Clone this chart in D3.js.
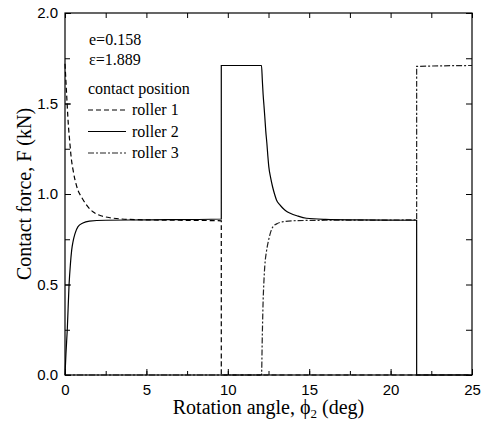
<!DOCTYPE html>
<html>
<head>
<meta charset="utf-8">
<script src="https://cdn.jsdelivr.net/npm/d3@7"></script>
<style>
  body { margin: 0; background: #fff; }
  svg { display: block; }
  .serif { font-family: "Liberation Serif", "Times New Roman", serif; }
</style>
</head>
<body>
<svg width="487" height="428"></svg>
<script>
// values
const roller1X = [0, 0.1, 0.2, 0.3, 0.37, 0.5, 0.61, 0.8, 1.0, 1.12, 1.4, 1.74, 2.2, 2.7, 3.5, 5, 7, 9.6, 9.6, 25];
const roller1Y = [1.72, 1.55, 1.39, 1.28, 1.21, 1.13, 1.08, 1.02, 0.985, 0.967, 0.93, 0.90, 0.88, 0.87, 0.862, 0.857, 0.855, 0.852, 0, 0];

const roller2X = [0, 0.06, 0.14, 0.25, 0.33, 0.41, 0.5, 0.61, 0.8, 1.1, 1.5, 2.5, 5, 9.6, 9.6, 12.07, 12.12, 12.17, 12.22, 12.27, 12.33, 12.4, 12.46, 12.52, 12.63, 12.75, 12.87, 12.99, 13.2, 13.4, 13.6, 13.8, 14.3, 14.83, 16, 18, 21.6, 21.6, 25];
const roller2Y = [0, 0.12, 0.25, 0.50, 0.61, 0.69, 0.74, 0.78, 0.82, 0.84, 0.85, 0.855, 0.857, 0.862, 1.71, 1.71, 1.63, 1.55, 1.49, 1.43, 1.35, 1.28, 1.21, 1.15, 1.09, 1.04, 1.0, 0.967, 0.94, 0.92, 0.905, 0.895, 0.878, 0.866, 0.86, 0.857, 0.855, 0, 0];

const roller3X = [0, 12.07, 12.12, 12.17, 12.22, 12.27, 12.37, 12.47, 12.6, 12.78, 13.0, 13.4, 14, 16, 21.6, 21.6, 25];
const roller3Y = [0, 0, 0.22, 0.41, 0.52, 0.60, 0.68, 0.73, 0.78, 0.82, 0.835, 0.847, 0.852, 0.855, 0.857, 1.705, 1.71];

const xTicks = [0, 5, 10, 15, 20, 25];
const yTicks = [0.0, 0.5, 1.0, 1.5, 2.0];
const legendNames = ["roller 1", "roller 2", "roller 3"];
const noteLines = ["e=0.158", "\u03b5=1.889"];

const W = 487, H = 428;
const margin = {left: 65, right: 15, top: 13, bottom: 53};
const iw = W - margin.left - margin.right;
const ih = H - margin.top - margin.bottom;

const svg = d3.select("svg");
const g = svg.append("g").attr("transform", `translate(${margin.left},${margin.top})`);

const x = d3.scaleLinear().domain([0, 25]).range([0, iw]);
const y = d3.scaleLinear().domain([0, 2]).range([ih, 0]);

const sans = "'Liberation Sans', Arial, sans-serif";

// inward ticks on all four sides
function styleAxis(sel) {
    sel.select(".domain").remove();
    sel.selectAll("line").attr("stroke", "#000").attr("stroke-width", 1);
}
const xMinor = d3.range(0, 25.01, 2.5);
const yMinor = d3.range(0, 2.01, 0.25);

g.append("g").attr("transform", `translate(0,${ih})`)
    .call(d3.axisBottom(x).tickValues(xMinor).tickSize(-4).tickFormat(""))
    .call(styleAxis);
g.append("g").attr("transform", `translate(0,${ih})`)
    .call(d3.axisBottom(x).tickValues(xTicks).tickSize(-6).tickPadding(9).tickFormat(d3.format("d")))
    .call(styleAxis)
    .selectAll("text").attr("font-family", sans).attr("font-size", 15).attr("fill", "#000");
g.append("g")
    .call(d3.axisTop(x).tickValues(xMinor).tickSize(-5).tickFormat(""))
    .call(styleAxis);

g.append("g")
    .call(d3.axisLeft(y).tickValues(yMinor).tickSize(-5).tickFormat(""))
    .call(styleAxis);
g.append("g")
    .call(d3.axisLeft(y).tickValues(yTicks).tickSize(-6).tickPadding(7).tickFormat(d3.format(".1f")))
    .call(styleAxis)
    .selectAll("text").attr("font-family", sans).attr("font-size", 15).attr("fill", "#000");
g.append("g").attr("transform", `translate(${iw},0)`)
    .call(d3.axisRight(y).tickValues(yMinor).tickSize(-6).tickFormat(""))
    .call(styleAxis);

// series
const line = d3.line().x(d => x(d[0])).y(d => y(d[1])).curve(d3.curveMonotoneX);
const series = [
    {pts: d3.zip(roller3X, roller3Y), dash: "6,2,2,2", color: "#222"},
    {pts: d3.zip(roller1X, roller1Y), dash: "5,3", color: "#000"},
    {pts: d3.zip(roller2X, roller2Y), dash: null, color: "#000"}
];
g.selectAll("path.s").data(series).enter().append("path")
    .attr("class", "s")
    .attr("d", d => line(d.pts))
    .attr("fill", "none")
    .attr("stroke", d => d.color)
    .attr("stroke-width", 1.2)
    .attr("stroke-dasharray", d => d.dash);

// frame
g.append("rect").attr("width", iw).attr("height", ih)
    .attr("fill", "none").attr("stroke", "#000").attr("stroke-width", 1.2);

// notes + legend
g.selectAll("text.note").data(noteLines).enter().append("text")
    .attr("class", "serif")
    .attr("x", 24).attr("y", (d, i) => 32 + i * 20)
    .attr("font-size", 16).text(d => d);

g.append("text").attr("class", "serif").attr("x", 23).attr("y", 81)
    .attr("font-size", 16).text("contact position");

const legDash = ["5,3", null, "6,2,2,2"];
const leg = g.selectAll("g.leg").data(legendNames).enter().append("g")
    .attr("transform", (d, i) => `translate(23,${97 + i * 21.5})`);
leg.append("line").attr("x1", 0).attr("x2", 38)
    .attr("stroke", (d, i) => i === 2 ? "#222" : "#000").attr("stroke-width", 1.2)
    .attr("stroke-dasharray", (d, i) => legDash[i]);
leg.append("text").attr("class", "serif").attr("x", 44).attr("y", 5)
    .attr("font-size", 16).text(d => d);

// axis titles
const xt = svg.append("text").attr("class", "serif")
    .attr("x", margin.left + iw / 2).attr("y", 414)
    .attr("text-anchor", "middle")
    .attr("font-size", 20);
xt.append("tspan").text("Rotation angle, \u03d5");
xt.append("tspan").attr("font-size", 13).attr("dy", 4).text("2");
xt.append("tspan").attr("dy", -4).text(" (deg)");

svg.append("text").attr("class", "serif")
    .attr("transform", `translate(31,${margin.top + ih / 2}) rotate(-90)`)
    .attr("text-anchor", "middle")
    .attr("font-size", 20)
    .text("Contact force, F (kN)");
</script>
</body>
</html>
